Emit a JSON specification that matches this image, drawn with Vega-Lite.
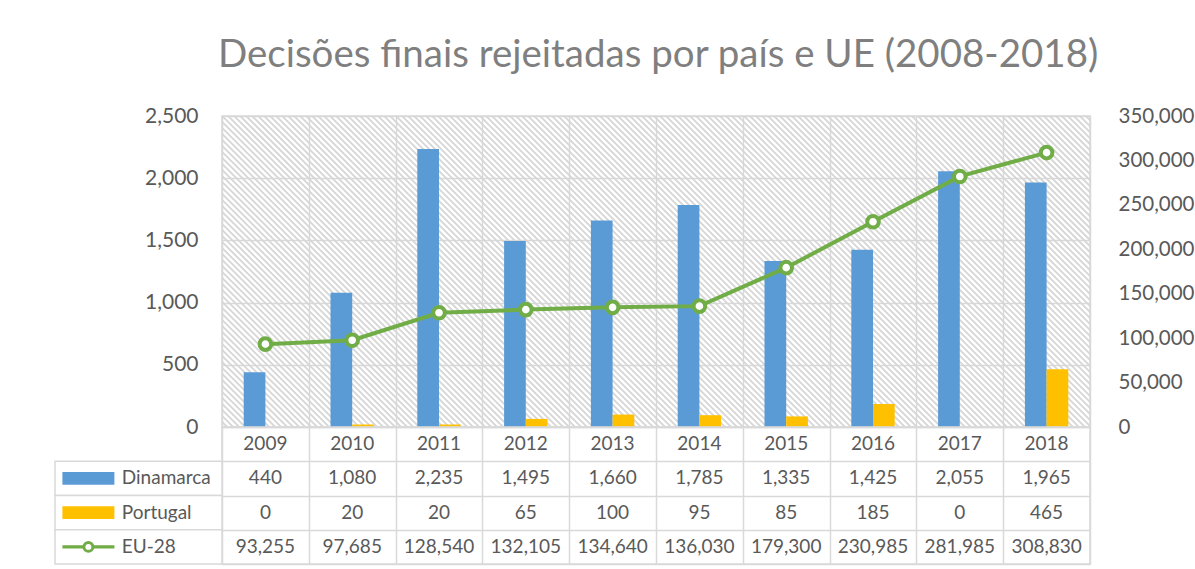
{
  "$schema": "https://vega.github.io/schema/vega-lite/v6.json",
  "padding": {"left": 53, "top": 35, "right": 5, "bottom": 0},
  "background": "white",
  "title": {"text": "Decisões finais rejeitadas por país e UE (2008-2018)", "font": "Lato", "fontSize": 38.5, "fontWeight": "normal", "color": "#7f7f7f", "anchor": "middle", "offset": 29, "dx": 34},
  "spacing": 0,
  "bounds": "flush",
  "data": {"values": [
    {"year": "2009", "Dinamarca": 440, "Portugal": 0, "EU-28": 93255},
    {"year": "2010", "Dinamarca": 1080, "Portugal": 20, "EU-28": 97685},
    {"year": "2011", "Dinamarca": 2235, "Portugal": 20, "EU-28": 128540},
    {"year": "2012", "Dinamarca": 1495, "Portugal": 65, "EU-28": 132105},
    {"year": "2013", "Dinamarca": 1660, "Portugal": 100, "EU-28": 134640},
    {"year": "2014", "Dinamarca": 1785, "Portugal": 95, "EU-28": 136030},
    {"year": "2015", "Dinamarca": 1335, "Portugal": 85, "EU-28": 179300},
    {"year": "2016", "Dinamarca": 1425, "Portugal": 185, "EU-28": 230985},
    {"year": "2017", "Dinamarca": 2055, "Portugal": 0, "EU-28": 281985},
    {"year": "2018", "Dinamarca": 1965, "Portugal": 465, "EU-28": 308830}
  ]},
  "config": {
    "view": {"stroke": "#d9d9d9", "strokeWidth": 1.5},
    "axis": {"labelFont": "Lato", "labelColor": "#595959", "gridColor": "#d9d9d9", "gridWidth": 1.5, "domain": false, "ticks": false, "title": null},
    "text": {"font": "Lato", "color": "#595959", "fontSize": 19}
  },
  "vconcat": [
    {
      "width": 868,
      "height": 311,
      "view": {"fill": "white"},
      "layer": [
        {
          "data": {"values": [{"hatch": 1}]},
          "mark": {"type": "point", "clip": true, "filled": false, "opacity": 1, "stroke": "#d6d6d6", "strokeWidth": 1.8, "size": 753424,
            "shape": "M-1.72,-0.36l0.72,0.72m-0.70618,-0.72l0.72,0.72m-0.70618,-0.72l0.72,0.72m-0.70618,-0.72l0.72,0.72m-0.70618,-0.72l0.72,0.72m-0.70618,-0.72l0.72,0.72m-0.70618,-0.72l0.72,0.72m-0.70618,-0.72l0.72,0.72m-0.70618,-0.72l0.72,0.72m-0.70618,-0.72l0.72,0.72m-0.70618,-0.72l0.72,0.72m-0.70618,-0.72l0.72,0.72m-0.70618,-0.72l0.72,0.72m-0.70618,-0.72l0.72,0.72m-0.70618,-0.72l0.72,0.72m-0.70618,-0.72l0.72,0.72m-0.70618,-0.72l0.72,0.72m-0.70618,-0.72l0.72,0.72m-0.70618,-0.72l0.72,0.72m-0.70618,-0.72l0.72,0.72m-0.70618,-0.72l0.72,0.72m-0.70618,-0.72l0.72,0.72m-0.70618,-0.72l0.72,0.72m-0.70618,-0.72l0.72,0.72m-0.70618,-0.72l0.72,0.72m-0.70618,-0.72l0.72,0.72m-0.70618,-0.72l0.72,0.72m-0.70618,-0.72l0.72,0.72m-0.70618,-0.72l0.72,0.72m-0.70618,-0.72l0.72,0.72m-0.70618,-0.72l0.72,0.72m-0.70618,-0.72l0.72,0.72m-0.70618,-0.72l0.72,0.72m-0.70618,-0.72l0.72,0.72m-0.70618,-0.72l0.72,0.72m-0.70618,-0.72l0.72,0.72m-0.70618,-0.72l0.72,0.72m-0.70618,-0.72l0.72,0.72m-0.70618,-0.72l0.72,0.72m-0.70618,-0.72l0.72,0.72m-0.70618,-0.72l0.72,0.72m-0.70618,-0.72l0.72,0.72m-0.70618,-0.72l0.72,0.72m-0.70618,-0.72l0.72,0.72m-0.70618,-0.72l0.72,0.72m-0.70618,-0.72l0.72,0.72m-0.70618,-0.72l0.72,0.72m-0.70618,-0.72l0.72,0.72m-0.70618,-0.72l0.72,0.72m-0.70618,-0.72l0.72,0.72m-0.70618,-0.72l0.72,0.72m-0.70618,-0.72l0.72,0.72m-0.70618,-0.72l0.72,0.72m-0.70618,-0.72l0.72,0.72m-0.70618,-0.72l0.72,0.72m-0.70618,-0.72l0.72,0.72m-0.70618,-0.72l0.72,0.72m-0.70618,-0.72l0.72,0.72m-0.70618,-0.72l0.72,0.72m-0.70618,-0.72l0.72,0.72m-0.70618,-0.72l0.72,0.72m-0.70618,-0.72l0.72,0.72m-0.70618,-0.72l0.72,0.72m-0.70618,-0.72l0.72,0.72m-0.70618,-0.72l0.72,0.72m-0.70618,-0.72l0.72,0.72m-0.70618,-0.72l0.72,0.72m-0.70618,-0.72l0.72,0.72m-0.70618,-0.72l0.72,0.72m-0.70618,-0.72l0.72,0.72m-0.70618,-0.72l0.72,0.72m-0.70618,-0.72l0.72,0.72m-0.70618,-0.72l0.72,0.72m-0.70618,-0.72l0.72,0.72m-0.70618,-0.72l0.72,0.72m-0.70618,-0.72l0.72,0.72m-0.70618,-0.72l0.72,0.72m-0.70618,-0.72l0.72,0.72m-0.70618,-0.72l0.72,0.72m-0.70618,-0.72l0.72,0.72m-0.70618,-0.72l0.72,0.72m-0.70618,-0.72l0.72,0.72m-0.70618,-0.72l0.72,0.72m-0.70618,-0.72l0.72,0.72m-0.70618,-0.72l0.72,0.72m-0.70618,-0.72l0.72,0.72m-0.70618,-0.72l0.72,0.72m-0.70618,-0.72l0.72,0.72m-0.70618,-0.72l0.72,0.72m-0.70618,-0.72l0.72,0.72m-0.70618,-0.72l0.72,0.72m-0.70618,-0.72l0.72,0.72m-0.70618,-0.72l0.72,0.72m-0.70618,-0.72l0.72,0.72m-0.70618,-0.72l0.72,0.72m-0.70618,-0.72l0.72,0.72m-0.70618,-0.72l0.72,0.72m-0.70618,-0.72l0.72,0.72m-0.70618,-0.72l0.72,0.72m-0.70618,-0.72l0.72,0.72m-0.70618,-0.72l0.72,0.72m-0.70618,-0.72l0.72,0.72m-0.70618,-0.72l0.72,0.72m-0.70618,-0.72l0.72,0.72m-0.70618,-0.72l0.72,0.72m-0.70618,-0.72l0.72,0.72m-0.70618,-0.72l0.72,0.72m-0.70618,-0.72l0.72,0.72m-0.70618,-0.72l0.72,0.72m-0.70618,-0.72l0.72,0.72m-0.70618,-0.72l0.72,0.72m-0.70618,-0.72l0.72,0.72m-0.70618,-0.72l0.72,0.72m-0.70618,-0.72l0.72,0.72m-0.70618,-0.72l0.72,0.72m-0.70618,-0.72l0.72,0.72m-0.70618,-0.72l0.72,0.72m-0.70618,-0.72l0.72,0.72m-0.70618,-0.72l0.72,0.72m-0.70618,-0.72l0.72,0.72m-0.70618,-0.72l0.72,0.72m-0.70618,-0.72l0.72,0.72m-0.70618,-0.72l0.72,0.72m-0.70618,-0.72l0.72,0.72m-0.70618,-0.72l0.72,0.72m-0.70618,-0.72l0.72,0.72m-0.70618,-0.72l0.72,0.72m-0.70618,-0.72l0.72,0.72m-0.70618,-0.72l0.72,0.72m-0.70618,-0.72l0.72,0.72m-0.70618,-0.72l0.72,0.72m-0.70618,-0.72l0.72,0.72m-0.70618,-0.72l0.72,0.72m-0.70618,-0.72l0.72,0.72m-0.70618,-0.72l0.72,0.72m-0.70618,-0.72l0.72,0.72m-0.70618,-0.72l0.72,0.72m-0.70618,-0.72l0.72,0.72m-0.70618,-0.72l0.72,0.72m-0.70618,-0.72l0.72,0.72m-0.70618,-0.72l0.72,0.72m-0.70618,-0.72l0.72,0.72m-0.70618,-0.72l0.72,0.72m-0.70618,-0.72l0.72,0.72m-0.70618,-0.72l0.72,0.72m-0.70618,-0.72l0.72,0.72m-0.70618,-0.72l0.72,0.72m-0.70618,-0.72l0.72,0.72m-0.70618,-0.72l0.72,0.72m-0.70618,-0.72l0.72,0.72m-0.70618,-0.72l0.72,0.72m-0.70618,-0.72l0.72,0.72m-0.70618,-0.72l0.72,0.72m-0.70618,-0.72l0.72,0.72m-0.70618,-0.72l0.72,0.72m-0.70618,-0.72l0.72,0.72m-0.70618,-0.72l0.72,0.72m-0.70618,-0.72l0.72,0.72m-0.70618,-0.72l0.72,0.72m-0.70618,-0.72l0.72,0.72m-0.70618,-0.72l0.72,0.72m-0.70618,-0.72l0.72,0.72m-0.70618,-0.72l0.72,0.72m-0.70618,-0.72l0.72,0.72m-0.70618,-0.72l0.72,0.72m-0.70618,-0.72l0.72,0.72m-0.70618,-0.72l0.72,0.72m-0.70618,-0.72l0.72,0.72m-0.70618,-0.72l0.72,0.72m-0.70618,-0.72l0.72,0.72m-0.70618,-0.72l0.72,0.72m-0.70618,-0.72l0.72,0.72m-0.70618,-0.72l0.72,0.72m-0.70618,-0.72l0.72,0.72m-0.70618,-0.72l0.72,0.72m-0.70618,-0.72l0.72,0.72m-0.70618,-0.72l0.72,0.72m-0.70618,-0.72l0.72,0.72m-0.70618,-0.72l0.72,0.72m-0.70618,-0.72l0.72,0.72m-0.70618,-0.72l0.72,0.72m-0.70618,-0.72l0.72,0.72m-0.70618,-0.72l0.72,0.72m-0.70618,-0.72l0.72,0.72m-0.70618,-0.72l0.72,0.72m-0.70618,-0.72l0.72,0.72m-0.70618,-0.72l0.72,0.72m-0.70618,-0.72l0.72,0.72m-0.70618,-0.72l0.72,0.72m-0.70618,-0.72l0.72,0.72m-0.70618,-0.72l0.72,0.72m-0.70618,-0.72l0.72,0.72m-0.70618,-0.72l0.72,0.72m-0.70618,-0.72l0.72,0.72m-0.70618,-0.72l0.72,0.72m-0.70618,-0.72l0.72,0.72m-0.70618,-0.72l0.72,0.72m-0.70618,-0.72l0.72,0.72m-0.70618,-0.72l0.72,0.72m-0.70618,-0.72l0.72,0.72m-0.70618,-0.72l0.72,0.72m-0.70618,-0.72l0.72,0.72m-0.70618,-0.72l0.72,0.72m-0.70618,-0.72l0.72,0.72m-0.70618,-0.72l0.72,0.72m-0.70618,-0.72l0.72,0.72m-0.70618,-0.72l0.72,0.72m-0.70618,-0.72l0.72,0.72m-0.70618,-0.72l0.72,0.72m-0.70618,-0.72l0.72,0.72m-0.70618,-0.72l0.72,0.72m-0.70618,-0.72l0.72,0.72m-0.70618,-0.72l0.72,0.72m-0.70618,-0.72l0.72,0.72m-0.70618,-0.72l0.72,0.72m-0.70618,-0.72l0.72,0.72m-0.70618,-0.72l0.72,0.72m-0.70618,-0.72l0.72,0.72m-0.70618,-0.72l0.72,0.72m-0.70618,-0.72l0.72,0.72m-0.70618,-0.72l0.72,0.72m-0.70618,-0.72l0.72,0.72m-0.70618,-0.72l0.72,0.72m-0.70618,-0.72l0.72,0.72m-0.70618,-0.72l0.72,0.72m-0.70618,-0.72l0.72,0.72m-0.70618,-0.72l0.72,0.72m-0.70618,-0.72l0.72,0.72m-0.70618,-0.72l0.72,0.72m-0.70618,-0.72l0.72,0.72m-0.70618,-0.72l0.72,0.72m-0.70618,-0.72l0.72,0.72m-0.70618,-0.72l0.72,0.72m-0.70618,-0.72l0.72,0.72m-0.70618,-0.72l0.72,0.72m-0.70618,-0.72l0.72,0.72m-0.70618,-0.72l0.72,0.72m-0.70618,-0.72l0.72,0.72m-0.70618,-0.72l0.72,0.72m-0.70618,-0.72l0.72,0.72m-0.70618,-0.72l0.72,0.72m-0.70618,-0.72l0.72,0.72m-0.70618,-0.72l0.72,0.72m-0.70618,-0.72l0.72,0.72m-0.70618,-0.72l0.72,0.72"},
          "encoding": {}
        },
        {
          "transform": [{"fold": ["Dinamarca", "Portugal"], "as": ["serie", "v"]}],
          "mark": {"type": "bar"},
          "encoding": {
            "x": {"field": "year", "type": "nominal", "scale": {"paddingInner": 0, "paddingOuter": 0}, "axis": {"labels": false, "grid": true, "tickBand": "extent", "minExtent": 0, "maxExtent": 0, "offset": 0}},
            "xOffset": {"field": "serie", "type": "nominal", "scale": {"paddingInner": 0, "paddingOuter": 1.067}},
            "y": {"field": "v", "type": "quantitative", "scale": {"domain": [0, 2500]}, "axis": {"values": [0, 500, 1000, 1500, 2000, 2500], "format": ",d", "labelFontSize": 21, "labelPadding": 24, "grid": true}},
            "color": {"field": "serie", "type": "nominal", "scale": {"domain": ["Dinamarca", "Portugal"], "range": ["#5b9bd5", "#ffc000"]}, "legend": null}
          }
        },
        {
          "encoding": {
            "x": {"field": "year", "type": "nominal"},
            "y": {"field": "EU-28", "type": "quantitative", "scale": {"domain": [0, 350000]}, "axis": {"orient": "right", "values": [0, 50000, 100000, 150000, 200000, 250000, 300000, 350000], "format": ",d", "labelFontSize": 20.5, "labelPadding": 28, "grid": false}}
          },
          "layer": [
            {"mark": {"type": "line", "color": "#70ad47", "strokeWidth": 4}},
            {"mark": {"type": "point", "shape": "circle", "size": 135, "filled": true, "fill": "white", "stroke": "#70ad47", "strokeWidth": 4, "opacity": 1}}
          ]
        }
      ],
      "resolve": {"scale": {"y": "independent", "color": "independent"}}
    },
    {
      "width": 868,
      "height": 137,
      "layer": [
        {
          "mark": {"type": "text"},
          "encoding": {
            "x": {"field": "year", "type": "nominal", "scale": {"paddingInner": 0, "paddingOuter": 0}, "axis": {"labels": false, "grid": true, "tickBand": "extent", "minExtent": 0, "maxExtent": 0}},
            "y": {"datum": "yr", "type": "nominal", "scale": {"domain": ["yr", "Dinamarca", "Portugal", "EU-28"], "paddingInner": 0, "paddingOuter": 0}, "axis": {"labels": false, "grid": true, "tickBand": "extent", "minExtent": 0, "maxExtent": 0}},
            "text": {"field": "year"}
          }
        },
        {
          "transform": [{"fold": ["Dinamarca", "Portugal", "EU-28"], "as": ["row", "v"]}],
          "mark": {"type": "text"},
          "encoding": {
            "x": {"field": "year", "type": "nominal", "scale": {"paddingInner": 0, "paddingOuter": 0}, "axis": null},
            "y": {"field": "row", "type": "nominal"},
            "text": {"field": "v", "type": "quantitative", "format": ",d"}
          }
        },
        {
          "data": {"values": [{"row": "Dinamarca"}, {"row": "Portugal"}, {"row": "EU-28"}]},
          "layer": [
            {
              "mark": {"type": "rect", "fill": "white", "stroke": "#d9d9d9", "strokeWidth": 1.5},
              "encoding": {
                "x": {"datum": 0, "type": "quantitative", "scale": {"domain": [0, 1], "range": [-167, 0]}, "axis": null},
                "x2": {"datum": 1},
                "y": {"field": "row", "type": "nominal"}
              }
            },
            {
              "mark": {"type": "text", "align": "left"},
              "encoding": {
                "x": {"datum": 0.4, "type": "quantitative"},
                "y": {"field": "row", "type": "nominal"},
                "text": {"field": "row"}
              }
            },
            {
              "mark": {"type": "point", "filled": true, "opacity": 1, "size": 2704},
              "encoding": {
                "x": {"datum": 0.2, "type": "quantitative"},
                "y": {"field": "row", "type": "nominal"},
                "shape": {"field": "row", "type": "nominal", "scale": {"domain": ["Dinamarca", "Portugal", "EU-28"], "range": ["M-1,-0.245H1V0.245H-1Z", "M-1,-0.245H1V0.245H-1Z", "M-1,-0.065H1V0.065H-1Z"]}, "legend": null},
                "color": {"field": "row", "type": "nominal", "scale": {"domain": ["Dinamarca", "Portugal", "EU-28"], "range": ["#5b9bd5", "#ffc000", "#70ad47"]}, "legend": null}
              }
            },
            {
              "transform": [{"filter": "datum.row == 'EU-28'"}],
              "mark": {"type": "point", "shape": "circle", "filled": true, "fill": "white", "stroke": "#70ad47", "strokeWidth": 3, "size": 80, "opacity": 1},
              "encoding": {
                "x": {"datum": 0.2, "type": "quantitative"},
                "y": {"field": "row", "type": "nominal"}
              }
            }
          ]
        }
      ],
      "resolve": {"scale": {"x": "independent"}}
    }
  ]
}
